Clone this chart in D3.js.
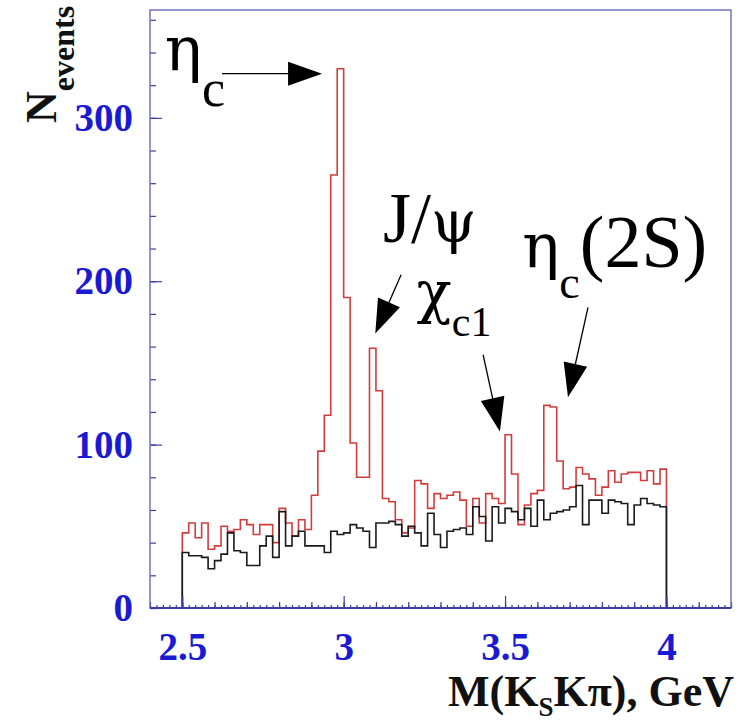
<!DOCTYPE html>
<html>
<head>
<meta charset="utf-8">
<script src="https://cdn.jsdelivr.net/npm/d3@7"></script>
<style>
  body { margin: 0; background: #fff; }
  svg { display: block; }
</style>
</head>
<body>
<svg id="chart"></svg>
<script>
// histogram of M(KsKpi), 0.02 GeV bins from 2.5 to 4.0
const BIN_LOW = 2.5;
const BIN_WIDTH = 0.02;

// red: signal selection
const RED_COUNTS = [
    46, 52, 43, 52, 36, 38, 50, 47, 48, 54,
    51, 45, 51, 51, 40, 61, 52, 44, 54, 48,
    69, 96, 118, 265, 330, 190, 101, 80, 80, 159,
    133, 67, 65, 54, 46, 49, 78, 76, 61, 70,
    67, 69, 71, 66, 50, 67, 52, 70, 67, 64,
    106, 82, 51, 63, 70, 72, 124, 123, 90, 73,
    74, 86, 82, 79, 69, 74, 84, 77, 82, 83,
    83, 78, 84, 76, 85
];

// black: background
const BLACK_COUNTS = [
    34, 32, 32, 31, 24, 29, 33, 46, 35, 34,
    26, 26, 38, 44, 31, 59, 38, 44, 47, 38,
    38, 38, 34, 47, 45, 46, 51, 49, 47, 37,
    52, 52, 53, 51, 44, 50, 46, 38, 58, 45,
    37, 47, 48, 49, 45, 62, 56, 41, 62, 52,
    61, 59, 54, 61, 50, 66, 54, 58, 59, 60,
    62, 75, 51, 66, 66, 58, 66, 65, 64, 51,
    63, 67, 64, 63, 62
];

const X_TICKS = [2.5, 3, 3.5, 4];
const Y_TICKS = [0, 100, 200, 300];

// annotation arrows, in data coordinates
const ARROWS = [
    {name: 'etac', from: [2.623, 327], to: [2.933, 327]},
    {name: 'jpsi', from: [3.178, 204], to: [3.098, 168]},
    {name: 'chic1', from: [3.432, 155], to: [3.484, 108]},
    {name: 'etac2s', from: [3.757, 184], to: [3.695, 129]}
];

const W = 746, H = 723;
const MARGIN = {left: 150, right: 15, top: 10, bottom: 115};
const PLOT_W = W - MARGIN.left - MARGIN.right;
const PLOT_H = H - MARGIN.top - MARGIN.bottom;

const SERIF = '"Liberation Serif", "Times New Roman", Times, serif';
const GREEK = '"DejaVu Serif", "Liberation Serif", serif';
const FRAME = '#3d3da6';
const LABEL_BLUE = '#1a1ad2';

const x = d3.scaleLinear().domain([2.4, 4.2]).range([0, PLOT_W]);
const y = d3.scaleLinear().domain([0, 366]).range([PLOT_H, 0]);

const svg = d3.select('#chart').attr('width', W).attr('height', H);
const g = svg.append('g').attr('transform', `translate(${MARGIN.left},${MARGIN.top})`);

// step points for a histogram, closed down to zero at both ends
function stepPoints(counts) {
    const pts = [[BIN_LOW, 0]];
    counts.forEach((c, i) => pts.push([BIN_LOW + i * BIN_WIDTH, c]));
    const hi = BIN_LOW + counts.length * BIN_WIDTH;
    pts.push([hi, counts[counts.length - 1]]);
    pts.push([hi, 0]);
    return pts;
}

const step = d3.line()
    .x(d => x(d[0]))
    .y(d => y(d[1]))
    .curve(d3.curveStepAfter);

g.append('path')
    .attr('d', step(stepPoints(RED_COUNTS)))
    .attr('fill', 'none')
    .attr('stroke', '#d23c3c')
    .attr('stroke-width', 1.6);

g.append('path')
    .attr('d', step(stepPoints(BLACK_COUNTS)))
    .attr('fill', 'none')
    .attr('stroke', '#1a1a1a')
    .attr('stroke-width', 1.6);

// ticks point inward: major with labels, then medium and small
function xTicks(values, size, labels) {
    const ax = d3.axisBottom(x).tickValues(values).tickSize(-size).tickPadding(24);
    if (!labels) ax.tickFormat('');
    else ax.tickFormat(d3.format('~g'));
    const a = g.append('g').attr('transform', `translate(0,${PLOT_H})`).call(ax);
    a.select('.domain').remove();
    a.selectAll('line').attr('stroke', FRAME).attr('stroke-width', 1.2);
    return a;
}
function yTicks(values, size, labels) {
    const ax = d3.axisLeft(y).tickValues(values).tickSize(-size).tickPadding(17);
    if (!labels) ax.tickFormat('');
    const a = g.append('g').call(ax);
    a.select('.domain').remove();
    a.selectAll('line').attr('stroke', FRAME).attr('stroke-width', 1.2);
    return a;
}

xTicks(d3.range(2.4, 4.2001, 0.02), 3, false);
xTicks(d3.range(2.4, 4.2001, 0.1), 6, false);
const xMajor = xTicks(X_TICKS, 12, true);
xMajor.selectAll('text')
    .attr('fill', LABEL_BLUE)
    .style('font-family', SERIF)
    .style('font-weight', 'bold')
    .style('font-size', '39px');

yTicks(d3.range(0, 366, 20), 6, false);
const yMajor = yTicks(Y_TICKS, 12, true);
yMajor.selectAll('text')
    .attr('fill', LABEL_BLUE)
    .style('font-family', SERIF)
    .style('font-weight', 'bold')
    .style('font-size', '39px');

// frame
g.append('rect')
    .attr('width', PLOT_W)
    .attr('height', PLOT_H)
    .attr('fill', 'none')
    .attr('stroke', '#6a6ab8')
    .attr('stroke-width', 1.4);
g.append('line')
    .attr('x1', 0).attr('x2', PLOT_W)
    .attr('y1', PLOT_H).attr('y2', PLOT_H)
    .attr('stroke', FRAME).attr('stroke-width', 2);

// axis titles
const xt = svg.append('text')
    .attr('x', 734).attr('y', 706)
    .attr('text-anchor', 'end')
    .style('font-family', SERIF)
    .style('font-weight', 'bold')
    .style('font-size', '44px')
    .attr('fill', '#111');
xt.append('tspan').text('M(K');
xt.append('tspan').attr('dy', 10).style('font-size', '27px').text('S');
xt.append('tspan').attr('dy', -10).text('K\u03c0), GeV');

const yt = svg.append('text')
    .attr('transform', 'translate(56,123) rotate(-90)')
    .style('font-family', SERIF)
    .style('font-weight', 'bold')
    .style('font-size', '44px')
    .attr('fill', '#111');
yt.append('tspan').text('N');
yt.append('tspan').attr('dy', 18).style('font-size', '32px').text('events');

// annotations
const ann = g.append('g')
    .style('font-family', SERIF)
    .attr('fill', '#000');

function label(xv, yv, parts) {
    const t = ann.append('text').attr('x', x(xv)).attr('y', y(yv));
    parts.forEach(p => {
        const s = t.append('tspan').text(p.text).style('font-size', p.size + 'px');
        if (p.greek) s.style('font-family', GREEK);
        if (p.dy) s.attr('dy', p.dy);
    });
}

label(2.446, 329, [{text: '\u03b7', size: 62, greek: true}, {text: 'c', size: 52, dy: 36}]);
label(3.122, 224, [{text: 'J/', size: 72}, {text: '\u03c8', size: 58, greek: true}]);
label(3.226, 181, [{text: '\u03c7', size: 58, greek: true}, {text: 'c1', size: 42, dy: 24}]);
label(3.553, 209, [{text: '\u03b7', size: 62, greek: true}, {text: 'c', size: 46, dy: 31}, {text: '(2S)', size: 74, dy: -31}]);

ARROWS.forEach(a => {
    const x0 = x(a.from[0]), y0 = y(a.from[1]);
    const x1 = x(a.to[0]), y1 = y(a.to[1]);
    const ang = Math.atan2(y1 - y0, x1 - x0);
    const len = Math.hypot(x1 - x0, y1 - y0);
    const headL = 34;
    const headW = 12;
    const ag = ann.append('g')
        .attr('transform', `translate(${x0},${y0}) rotate(${ang * 180 / Math.PI})`);
    ag.append('line')
        .attr('x1', 0).attr('y1', 0)
        .attr('x2', len - headL + 2).attr('y2', 0)
        .attr('stroke', '#000').attr('stroke-width', 1.3);
    ag.append('path')
        .attr('d', `M${len},0 L${len - headL},${-headW} L${len - headL},${headW} Z`)
        .attr('fill', '#000');
});
</script>
</body>
</html>
